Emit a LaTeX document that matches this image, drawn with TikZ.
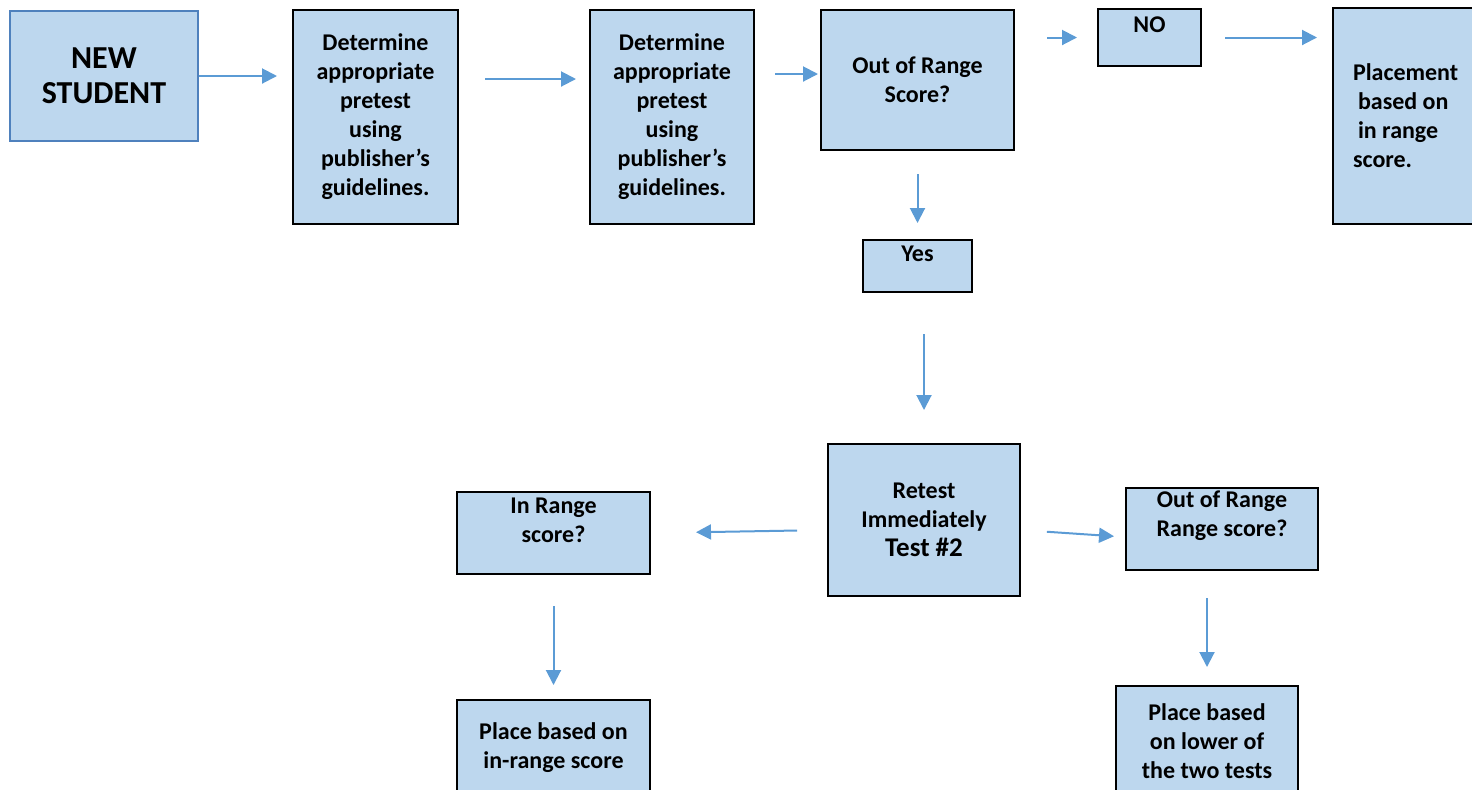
\documentclass[tikz,border=0pt]{standalone}
\usepackage{fontspec}
\setmainfont{Carlito}
\usepackage{xcolor}
\usepackage{tikz}
\usetikzlibrary{arrows.meta}
\usetikzlibrary{calc}
\definecolor{boxfill}{HTML}{BDD7EE}
\definecolor{arrowblue}{HTML}{5B9BD5}
\definecolor{edgeblue}{HTML}{4F81BD}
\tikzset{
  box/.style={draw=black, line width=1pt, fill=boxfill, inner sep=0pt, align=center,
    font=\bfseries\fontsize{12}{14.5}\selectfont},
  boxlabel/.style={anchor=center, inner sep=0pt, align=center,
    font=\bfseries\fontsize{12}{14.5}\selectfont},
  arr/.style={draw=arrowblue, line width=1pt, -{Triangle[length=7.5pt,width=7.5pt]}}
}

\begin{document}
\begin{tikzpicture}[x=0.5pt, y=-0.5pt]
	\useasboundingbox (0,0) rectangle (1472,789);
	\clip (0,0) rectangle (1472,789);
	% top row
	\node [box, draw=edgeblue, minimum width=94pt, minimum height=65pt,
	  font=\bfseries\fontsize{16}{17.5}\selectfont] (new) at (104,76) {NEW\\STUDENT};
	\node [box, minimum width=82.5pt, minimum height=107pt] (det1) at (375.5,117)
	  {Determine\\appropriate\\pretest\\using\\publisher’s\\guidelines.};
	\node [box, minimum width=82pt, minimum height=107pt] (det2) at (672,117)
	  {Determine\\appropriate\\pretest\\using\\publisher’s\\guidelines.};
	\node [box, minimum width=96.5pt, minimum height=70pt] (outr) at (917.5,80) {Out of Range\\Score?};
	\node [box, minimum width=51.5pt, minimum height=28.5pt,
	  label={[boxlabel, yshift=6.25pt]center:NO}] (no) at (1149.5,37.5) {};
	\node [box, minimum height=108pt, text width=63.5pt, inner xsep=10pt, align=flush left] (place) at (1416.5,116)
	  {Placement\\\hspace*{2.5pt}based on\\\hspace*{2.5pt}in range\\score.};
	% middle column
	\node [box, minimum width=54.5pt, minimum height=26pt,
	  label={[boxlabel, yshift=6pt]center:Yes}] (yes) at (917.5,266) {};
	\node [box, minimum width=96pt, minimum height=76pt] (retest) at (924,520)
	  {Retest\\Immediately\\{\fontsize{13.5}{15.5}\selectfont Test \#2}};
	% bottom row
	\node [box, minimum width=96.5pt, minimum height=41pt,
	  label={[boxlabel, yshift=6.5pt]center:In Range\\score?}] (inr) at (553.5,533) {};
	\node [box, minimum width=96pt, minimum height=41pt,
	  label={[boxlabel, yshift=6.5pt]center:Out of Range\\Range score?}] (outr2) at (1222,529) {};
	\node [box, minimum width=96.5pt, minimum height=47.5pt] (place1) at (553.5,747.5)
	  {Place based on\\in-range score};
	\node [box, minimum width=91pt, minimum height=55pt] (place2) at (1207,741)
	  {Place based\\on lower of\\the two tests};
	% arrows
	\draw [arr, shorten >=7.5pt] (new.east) -- (new.east -| det1.west);
	\draw [arr, shorten <=13pt, shorten >=6.5pt] ([yshift=-35pt]det1.north east) -- ([yshift=-35pt]det2.north west);
	\draw [arr, shorten <=10pt, shorten >=1pt] ([yshift=-32.5pt]det2.north east) -- ([yshift=-32.5pt]det2.north east -| outr.west);
	\draw [arr, shorten <=16pt, shorten >=10pt] (no.west -| outr.east) -- (no.west);
	\draw [arr, shorten <=11.5pt, shorten >=7.5pt] (no.east) -- (no.east -| place.west);
	\draw [arr, shorten <=11.5pt, shorten >=8pt] (outr.south) -- (yes.north);
	\draw [arr, shorten <=20.5pt, shorten >=16.5pt] (yes.south -| retest.north) -- (retest.north);
	\draw [arr, shorten <=15pt, shorten >=22.5pt] ([yshift=-5pt]retest.west) -- (inr.east);
	\draw [arr, shorten <=13pt, shorten >=5.5pt] ([yshift=-5pt]retest.east) -- ([yshift=-4pt]outr2.west);
	\draw [arr, shorten <=15.5pt, shorten >=7pt] (inr.south) -- (place1.north);
	\draw [arr, shorten <=13.5pt, shorten >=9pt] (place2.north |- outr2.south) -- (place2.north);
\end{tikzpicture}
\end{document}
